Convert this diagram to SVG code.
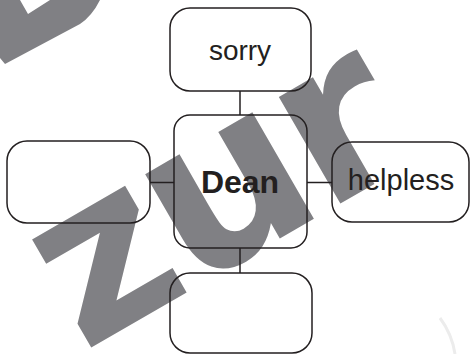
<svg xmlns="http://www.w3.org/2000/svg" width="470" height="354" viewBox="0 0 470 354">
<style>
.box{fill:none;stroke:#231f20;stroke-width:1.5}
.lbl{font-family:"Liberation Sans",Arial,sans-serif;fill:#231f20;text-anchor:middle}
.wm{font-family:"DejaVu Sans",sans-serif;font-weight:bold;fill:#808084}
.conn line{stroke:#231f20;stroke-width:1.5}
</style>
<rect width="470" height="354" fill="#fff"/>
<g id="watermark">
<path d="M0,0 L20,0 L28,14 L50,0 L100,0 Q92,16 80,24 L5,64 L0,58 Z" fill="#808084"/>
<text class="wm" font-size="225" transform="translate(92,347) rotate(-30)" x="-11 115 268" y="0">zur</text>
<path d="M440,318 Q452,334 455,354" fill="none" stroke="#ececec" stroke-width="3"/>
</g>
<g class="conn" id="connectors">
<line x1="240" y1="91" x2="240" y2="115"/>
<line x1="240" y1="248" x2="240" y2="273"/>
<line x1="150" y1="182.5" x2="174" y2="182.5"/>
<line x1="307" y1="182.5" x2="332" y2="182.5"/>
</g>
<g id="sorry"><rect class="box" x="170" y="8" width="141" height="83" rx="20"/><text class="lbl" x="240" y="60" font-size="28">sorry</text></g>
<g id="dean"><rect class="box" x="174" y="115" width="133" height="133" rx="16"/><text class="lbl" x="240" y="193" font-size="32" font-weight="bold">Dean</text></g>
<g id="left"><rect class="box" x="7" y="141" width="143" height="82" rx="20"/></g>
<g id="helpless"><rect class="box" x="332" y="142" width="137" height="80" rx="20"/><text class="lbl" x="401" y="190" font-size="29">helpless</text></g>
<g id="bottom"><rect class="box" x="170" y="273" width="142" height="80" rx="20"/></g>
</svg>
